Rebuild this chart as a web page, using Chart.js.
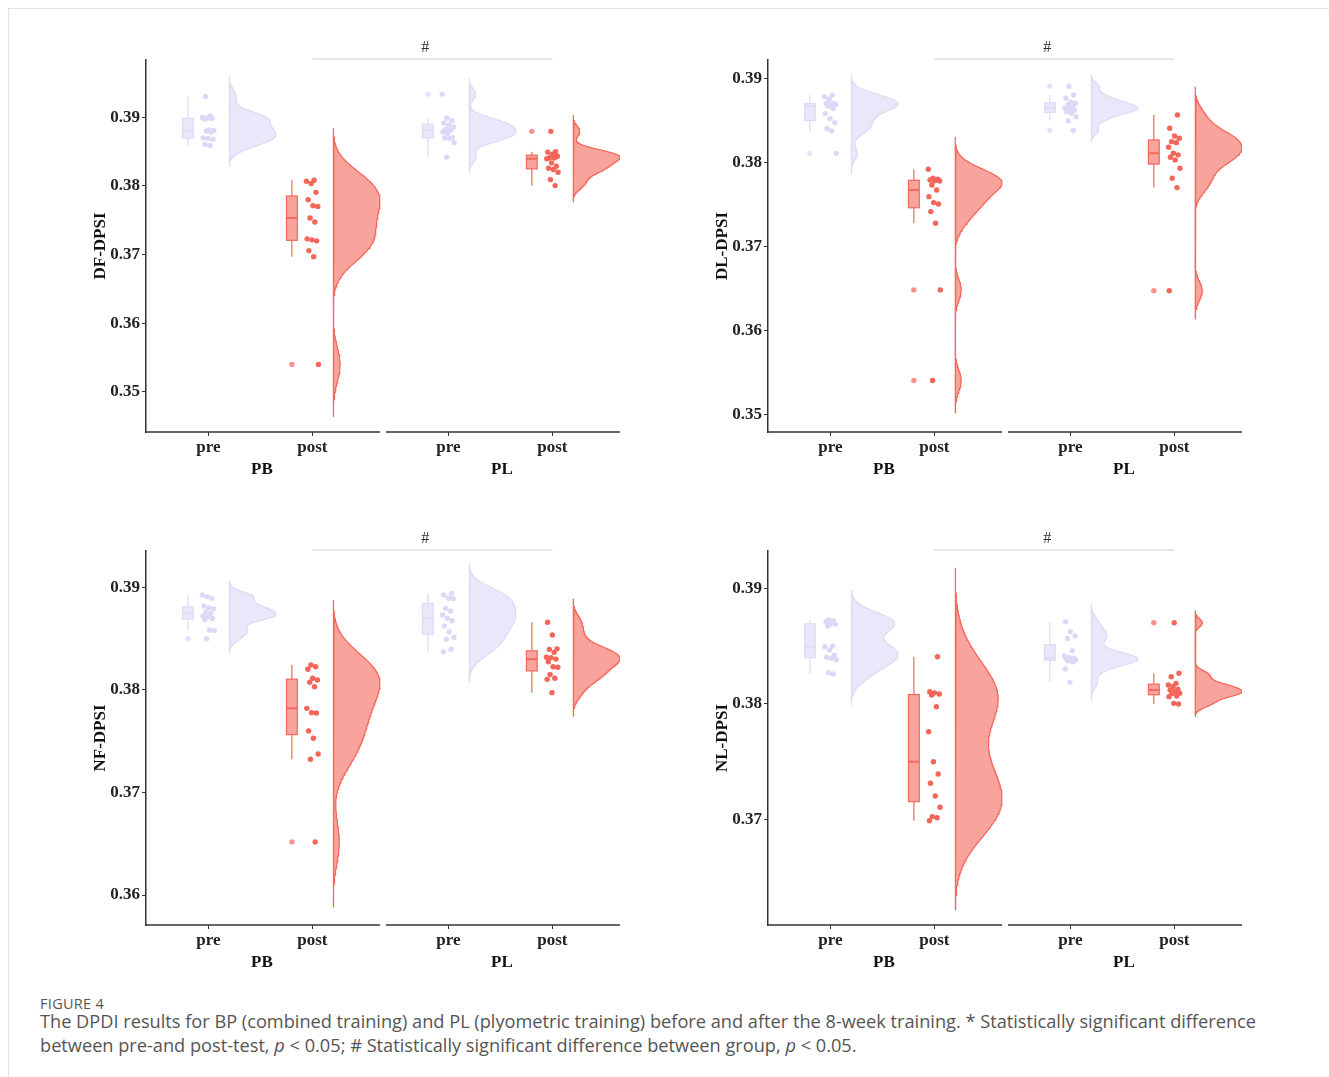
<!DOCTYPE html>
<html>
<head>
<meta charset="utf-8">
<script src="https://cdn.jsdelivr.net/npm/chart.js@4.4.1/dist/chart.umd.min.js"></script>
<style>
  body { margin: 0; background: #fff; width: 1329px; height: 1077px; position: relative; overflow: hidden; font-family: 'Open Sans', sans-serif; }
  .frame { position: absolute; left: 8px; top: 8px; right: 0; bottom: 0; border-top: 1px solid #e2e2e2; border-left: 1px solid #e2e2e2; }
  canvas { position: absolute; }
  #capLabel { position: absolute; left: 40px; top: 994px; font-size: 14.5px; color: #555; letter-spacing: 0.3px; }
  #capText { position: absolute; left: 40px; top: 1009px; font-size: 18.2px; line-height: 24px; color: #555; white-space: nowrap; }
</style>
</head>
<body>
<div class="frame"></div>
<canvas id="c0" width="546" height="480" style="left:84px;top:20px"></canvas>
<canvas id="c1" width="546" height="480" style="left:706px;top:20px"></canvas>
<canvas id="c2" width="546" height="482" style="left:84px;top:511px"></canvas>
<canvas id="c3" width="546" height="482" style="left:706px;top:511px"></canvas>
<div id="capLabel">FIGURE 4</div>
<div id="capText">The DPDI results for BP (combined training) and PL (plyometric training) before and after the 8-week training. * Statistically significant difference<br>between pre-and post-test, <i>p</i> &lt; 0.05; # Statistically significant difference between group, <i>p</i> &lt; 0.05.</div>

<script>
const phases = ['pre', 'post'];
const groups = ['PB', 'PL'];
const measures = ['DF-DPSI', 'DL-DPSI', 'NF-DPSI', 'NL-DPSI'];
const yMin = [0.34413, 0.34798, 0.35708, 0.36085];
const yMax = [0.39835, 0.39217, 0.39354, 0.39323];

// DF-DPSI
const dfPbPre = [0.3859, 0.38605, 0.38678, 0.38693, 0.3870, 0.38785, 0.38799, 0.38805, 0.38814, 0.38971, 0.38981, 0.38985, 0.38996, 0.39019, 0.39303];
const dfPbPost = [0.35398, 0.36969, 0.37057, 0.37199, 0.37214, 0.37228, 0.37473, 0.37532, 0.37701, 0.37712, 0.37799, 0.37906, 0.38034, 0.38067, 0.38082];
const dfPlPre = [0.3842, 0.38629, 0.3869, 0.38698, 0.38702, 0.38766, 0.38785, 0.3881, 0.38824, 0.38858, 0.38883, 0.38917, 0.3895, 0.3899, 0.39337];
const dfPlPost = [0.38004, 0.38092, 0.382, 0.38239, 0.38257, 0.38287, 0.38336, 0.38395, 0.38405, 0.3841, 0.38433, 0.38463, 0.38492, 0.38498, 0.38795];
// DL-DPSI
const dlPbPre = [0.38109, 0.38375, 0.38404, 0.38473, 0.38521, 0.3858, 0.3864, 0.3867, 0.38685, 0.38692, 0.38698, 0.38702, 0.3875, 0.3878, 0.388];
const dlPbPost = [0.35409, 0.36486, 0.37278, 0.37416, 0.37507, 0.37523, 0.37594, 0.37673, 0.37733, 0.3778, 0.37784, 0.37792, 0.378, 0.37812, 0.37919];
const dlPlPre = [0.3838, 0.38496, 0.38544, 0.38585, 0.38603, 0.3862, 0.38632, 0.38645, 0.38663, 0.38683, 0.38703, 0.38717, 0.38762, 0.38802, 0.38905];
const dlPlPost = [0.36477, 0.37701, 0.37812, 0.37931, 0.3803, 0.38062, 0.3809, 0.3811, 0.3818, 0.38235, 0.38247, 0.38287, 0.38315, 0.38406, 0.38564];
// NF-DPSI
const nfPbPre = [0.38499, 0.38577, 0.38584, 0.38686, 0.38696, 0.38714, 0.3872, 0.38746, 0.3876, 0.3879, 0.388, 0.38818, 0.38893, 0.38909, 0.38925];
const nfPbPost = [0.36518, 0.37324, 0.37375, 0.37528, 0.376, 0.37775, 0.37778, 0.3782, 0.38031, 0.38074, 0.38096, 0.38113, 0.38201, 0.38226, 0.38243];
const nfPlPre = [0.38372, 0.38396, 0.38493, 0.38513, 0.38567, 0.38623, 0.38675, 0.38698, 0.3873, 0.38769, 0.38795, 0.3889, 0.38893, 0.38925, 0.38942];
const nfPlPost = [0.37973, 0.38103, 0.38113, 0.3815, 0.3822, 0.38226, 0.38275, 0.383, 0.38315, 0.38318, 0.38366, 0.38395, 0.384, 0.38535, 0.3866];
// NL-DPSI
const nlPbPre = [0.38258, 0.38269, 0.3838, 0.38395, 0.38403, 0.3842, 0.38466, 0.38494, 0.385, 0.38674, 0.3869, 0.38695, 0.38711, 0.38717, 0.38726];
const nlPbPost = [0.36988, 0.37014, 0.37023, 0.37104, 0.37202, 0.37312, 0.37392, 0.37499, 0.37758, 0.37975, 0.38076, 0.38085, 0.38095, 0.38105, 0.38408];
const nlPlPre = [0.38186, 0.38301, 0.38364, 0.38373, 0.38379, 0.3838, 0.3839, 0.38394, 0.384, 0.38414, 0.3846, 0.38565, 0.38587, 0.38624, 0.3871];
const nlPlPost = [0.37998, 0.38004, 0.38062, 0.38068, 0.3809, 0.38091, 0.38105, 0.3812, 0.38126, 0.3815, 0.38163, 0.38177, 0.38235, 0.38264, 0.38702];

const panels = [
  [dfPbPre, dfPbPost, dfPlPre, dfPlPost],
  [dlPbPre, dlPbPost, dlPlPre, dlPlPost],
  [nfPbPre, nfPbPost, nfPlPre, nfPlPost],
  [nlPbPre, nlPbPost, nlPlPre, nlPlPost]
];

const facetGap = 2.3077;      // x offset of the PL facet
const xLo = 0.4, xHi = 2.651;  // facet limits
const xMax = xHi + facetGap;
const boxShift = -0.197, boxHalf = 0.052, violinShift = 0.2, violinWidth = 0.45;

const colors = [
  { fill: 'rgba(230,230,250,0.9)', line: '#DCDCF6', point: '#DADAF7', out: 'rgba(220,220,247,0.8)' },
  { fill: 'rgba(244,104,92,0.6)', line: '#F4685D', point: '#F4655A', out: 'rgba(244,101,90,0.7)' }
];
const serif = "'Liberation Serif','Times New Roman',serif";
const boldFont = { family: serif, weight: 'bold', size: 17 };
const boxMap = {};

const quantile = (s, p) => {
  const h = (s.length - 1) * p, lo = Math.floor(h);
  const hi = Math.min(lo + 1, s.length - 1);
  return s[lo] + (h - lo) * (s[hi] - s[lo]);
};

const boxStats = vals => {
  const s = [...vals].sort((a, b) => a - b);
  const q1 = quantile(s, 0.25), med = quantile(s, 0.5), q3 = quantile(s, 0.75);
  const lo = q1 - 1.5 * (q3 - q1), hi = q3 + 1.5 * (q3 - q1);
  const inside = s.filter(v => v >= lo && v <= hi);
  return { q1, med, q3, wLo: inside[0], wHi: inside[inside.length - 1], out: s.filter(v => v < lo || v > hi) };
};

// half violin from a gaussian kde (bw.nrd0), scaled to a common width
const halfViolin = (vals, base) => {
  const s = [...vals].sort((a, b) => a - b), n = s.length;
  const mean = s.reduce((a, b) => a + b, 0) / n;
  const sd = Math.sqrt(s.reduce((a, v) => a + (v - mean) ** 2, 0) / (n - 1));
  const iqr = quantile(s, 0.75) - quantile(s, 0.25);
  const bw = 0.9 * Math.min(sd, iqr / 1.34) * Math.pow(n, -0.2);
  const lo = s[0] - 3 * bw, hi = s[n - 1] + 3 * bw;
  const ys = [], ds = [];
  for (let i = 0; i <= 240; i++) {
    const y = lo + (hi - lo) * i / 240;
    let d = 0;
    s.forEach(v => { const z = (y - v) / bw; d += Math.exp(-0.5 * z * z); });
    ys.push(y); ds.push(d);
  }
  const mx = Math.max(...ds);
  const pts = [{ x: base, y: lo }];
  ys.forEach((y, i) => pts.push({ x: base + violinWidth * ds[i] / mx, y }));
  pts.push({ x: base, y: hi }, { x: base, y: lo });
  return pts;
};

const jitter = (i, g) => ((((i + 1) * 0.6180339 + g * 0.37) % 1) - 0.5) * 0.12;

const boxPlugin = {
  id: 'boxes',
  beforeDatasetsDraw(chart) {
    const { ctx, scales: { x, y } } = chart;
    (boxMap[chart.canvas.id] || []).forEach(b => {
      const c = colors[b.phase];
      const l = x.getPixelForValue(b.cx - boxHalf), r = x.getPixelForValue(b.cx + boxHalf);
      const m = x.getPixelForValue(b.cx);
      const st = b.stats;
      ctx.save();
      ctx.strokeStyle = c.line;
      ctx.lineWidth = 1.2;
      ctx.beginPath();
      ctx.moveTo(m, y.getPixelForValue(st.wHi)); ctx.lineTo(m, y.getPixelForValue(st.q3));
      ctx.moveTo(m, y.getPixelForValue(st.q1)); ctx.lineTo(m, y.getPixelForValue(st.wLo));
      ctx.stroke();
      const top = y.getPixelForValue(st.q3), bot = y.getPixelForValue(st.q1);
      ctx.fillStyle = c.fill;
      ctx.fillRect(l, top, r - l, bot - top);
      ctx.strokeRect(l, top, r - l, bot - top);
      ctx.lineWidth = 2;
      ctx.beginPath();
      ctx.moveTo(l, y.getPixelForValue(st.med)); ctx.lineTo(r, y.getPixelForValue(st.med));
      ctx.stroke();
      ctx.restore();
    });
  }
};

const framePlugin = {
  id: 'frame',
  afterDraw(chart) {
    const { ctx, chartArea, scales: { x } } = chart;
    ctx.save();
    // x axis line, one per facet
    ctx.strokeStyle = '#333';
    ctx.lineWidth = 1.5;
    [0, facetGap].forEach(off => {
      ctx.beginPath();
      ctx.moveTo(x.getPixelForValue(xLo + off), chartArea.bottom);
      ctx.lineTo(x.getPixelForValue(xHi + off), chartArea.bottom);
      ctx.stroke();
    });
    // between-group annotation
    const ly = chartArea.top - 1;
    ctx.strokeStyle = '#cfcfcf';
    ctx.lineWidth = 1;
    ctx.beginPath();
    ctx.moveTo(x.getPixelForValue(2), ly);
    ctx.lineTo(x.getPixelForValue(2 + facetGap), ly);
    ctx.stroke();
    ctx.fillStyle = '#333';
    ctx.font = '16px ' + serif;
    ctx.textAlign = 'center';
    ctx.textBaseline = 'bottom';
    ctx.fillText('#', x.getPixelForValue(2 + facetGap * 0.47), ly - 3);
    ctx.restore();
  }
};

const buildPanel = (p) => {
  const datasets = [];
  const boxes = [];
  panels[p].forEach((vals, g) => {
    const phase = g % 2, facet = Math.floor(g / 2);
    const cx = phase + 1 + facet * facetGap;
    const c = colors[phase];
    const stats = boxStats(vals);
    boxes.push({ cx: cx + boxShift, phase, stats });
    datasets.push({
      data: halfViolin(vals, cx + violinShift),
      showLine: true, fill: 'shape', tension: 0,
      borderColor: c.line, backgroundColor: c.fill, borderWidth: 1.3,
      pointRadius: 0, order: 3
    });
    datasets.push({
      data: vals.map((v, i) => ({ x: cx + jitter(i, g + p), y: v })),
      pointRadius: 2.7, pointBackgroundColor: c.point, pointBorderWidth: 0, order: 1
    });
    datasets.push({
      data: stats.out.map(v => ({ x: cx + boxShift, y: v })),
      pointRadius: 2.7, pointBackgroundColor: c.out, pointBorderWidth: 0, order: 2
    });
  });
  boxMap['c' + p] = boxes;

  new Chart('c' + p, {
    type: 'scatter',
    data: { datasets },
    options: {
      responsive: false,
      animation: false,
      devicePixelRatio: 1,
      layout: { padding: { top: 40, right: 10, bottom: 14, left: 0 } },
      plugins: { legend: { display: false }, tooltip: { enabled: false } },
      scales: {
        x: {
          type: 'linear', min: xLo, max: xMax, position: 'bottom', weight: 0,
          afterBuildTicks: s => { s.ticks = [1, 2, 1 + facetGap, 2 + facetGap].map(value => ({ value })); },
          afterFit: s => { s.height = 24; },
          ticks: { callback: (v, i) => phases[i % 2], font: boldFont, color: '#222', padding: 1, maxRotation: 0, autoSkip: false },
          grid: { drawOnChartArea: false, drawTicks: true, tickLength: 4, color: '#333' },
          border: { display: false }
        },
        x2: {
          type: 'linear', min: xLo, max: xMax, position: 'bottom', weight: 1,
          afterBuildTicks: s => { s.ticks = [1.515, 1.515 + facetGap].map(value => ({ value })); },
          afterFit: s => { s.height = 30; },
          ticks: { callback: (v, i) => groups[i], font: boldFont, color: '#111', padding: 3, maxRotation: 0, autoSkip: false },
          grid: { display: false, drawTicks: false, tickLength: 0 },
          border: { display: false }
        },
        y: {
          min: yMin[p], max: yMax[p],
          afterFit: s => { s.width = 62; },
          ticks: { stepSize: 0.01, includeBounds: false, callback: v => v.toFixed(2), font: boldFont, color: '#222', padding: 2 },
          grid: { drawOnChartArea: false, drawTicks: true, tickLength: 4, color: '#333' },
          border: { display: true, color: '#333', width: 1.5 },
          title: { display: true, text: measures[p], font: boldFont, color: '#111', padding: { top: 6, bottom: 0 } }
        }
      }
    },
    plugins: [boxPlugin, framePlugin]
  });
};

[0, 1, 2, 3].forEach(buildPanel);
</script>
</body>
</html>
